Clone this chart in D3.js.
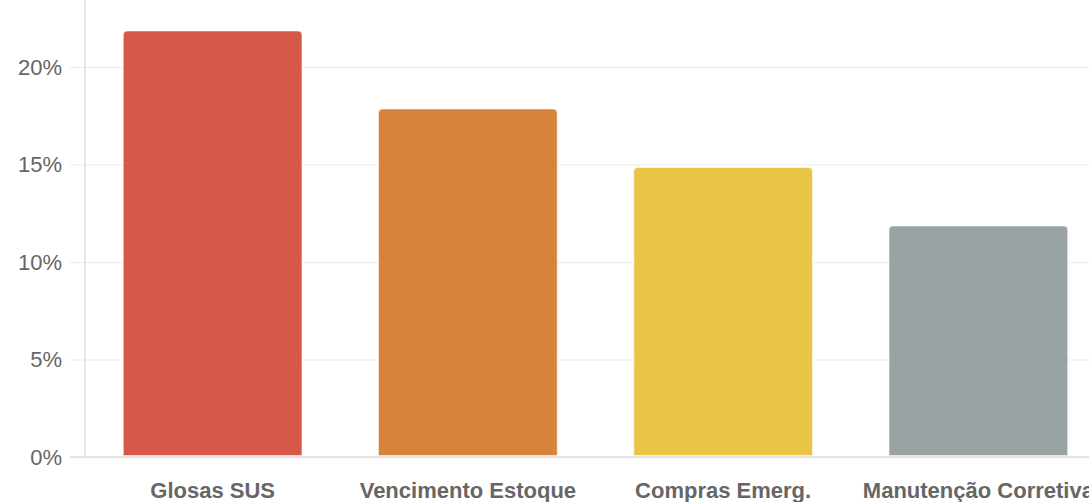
<!DOCTYPE html>
<html>
<head>
<meta charset="utf-8">
<script src="https://cdn.jsdelivr.net/npm/d3@7"></script>
<style>
	body { margin: 0; background: #fff; }
	svg { display: block; }
</style>
</head>
<body>
<div id="chart"></div>
<script>
var categories = ['Glosas SUS', 'Vencimento Estoque', 'Compras Emerg.', 'Manutenção Corretiva'];
var values = [22, 18, 15, 12];
var colours = ['#d65849', '#d7833b', '#e8c546', '#99a3a4'];
var tick_values = [0, 5, 10, 15, 20];

var width = 1089, height = 502;
var left = 85, right = 1106, base = 457;

var svg = d3.select('#chart')
	.append('svg')
	.attr('width', width)
	.attr('height', height);

var x = d3.scaleBand()
	.domain(categories)
	.range([left, right])
	.paddingInner(0.3)
	.paddingOuter(0.15);

//20% sits at y=67, the top is cut off by the frame
var y = d3.scaleLinear()
	.domain([0, 20])
	.range([base, 67]);

//gridlines and tick labels
var y_axis = d3.axisLeft(y)
	.tickValues(tick_values)
	.tickSize(-(width - left))
	.tickPadding(8)
	.tickFormat(function(d){ return d + '%'; });

var g_axis = svg.append('g')
	.attr('transform', 'translate(' + left + ',0)')
	.call(y_axis);
g_axis.select('.domain').remove();
g_axis.selectAll('.tick line')
	.attr('x1', -15)
	.attr('stroke', '#ececec')
	.attr('stroke-width', 1.2);
g_axis.selectAll('.tick text')
	.attr('x', -23)
	.style('font-family', '"Liberation Sans", Arial, sans-serif')
	.style('font-size', '22px')
	.style('fill', '#666');

//bars, slightly inset with a pale edge
svg.selectAll('.bar')
	.data(categories)
	.enter()
	.append('path')
	.attr('class', 'bar')
	.attr('d', function(d, i){
		var x0 = x(d), x1 = x(d) + x.bandwidth();
		var y0 = y(values[i]) + 3, y1 = base - 1.5, r = 4;
		return 'M' + x0 + ',' + y1 +
			'V' + (y0 + r) +
			'Q' + x0 + ',' + y0 + ' ' + (x0 + r) + ',' + y0 +
			'H' + (x1 - r) +
			'Q' + x1 + ',' + y0 + ' ' + x1 + ',' + (y0 + r) +
			'V' + y1 + 'Z';
	})
	.style('fill', function(d, i){ return colours[i]; })
	.style('stroke', 'rgba(255,255,255,0.5)')
	.style('stroke-width', 1);

//axis lines
svg.append('line')
	.attr('x1', left).attr('x2', left)
	.attr('y1', 0).attr('y2', base)
	.attr('stroke', '#e0e0e0')
	.attr('stroke-width', 1.5);
svg.append('line')
	.attr('x1', left - 15).attr('x2', width)
	.attr('y1', base).attr('y2', base)
	.attr('stroke', '#dcdcdc')
	.attr('stroke-width', 1.5);

//category labels
svg.selectAll('.cat')
	.data(categories)
	.enter()
	.append('text')
	.attr('class', 'cat')
	.attr('x', function(d){ return x(d) + x.bandwidth() / 2; })
	.attr('y', 498)
	.attr('text-anchor', 'middle')
	.style('font-family', '"Liberation Sans", Arial, sans-serif')
	.style('font-size', '22px')
	.style('font-weight', 'bold')
	.style('fill', '#666')
	.text(function(d){ return d; });
</script>
</body>
</html>
